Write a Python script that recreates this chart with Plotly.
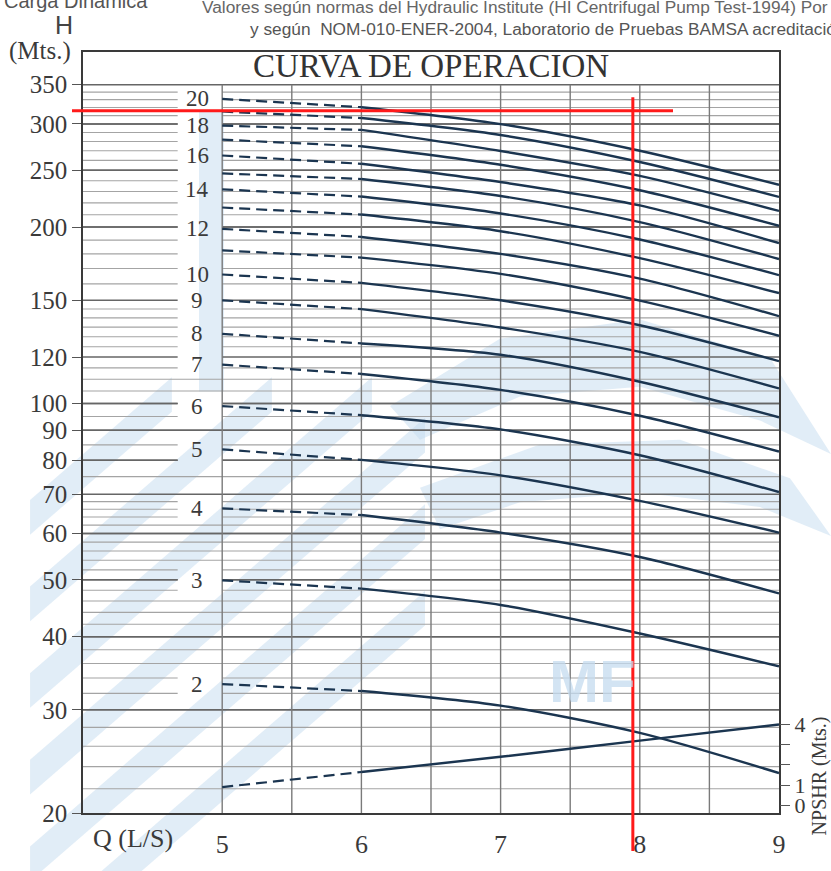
import math
import plotly.graph_objects as go

# ---------------------------------------------------------------------------
# Pump operating curves: head H (m) vs flow Q (L/s) for 2..20 stages
# ---------------------------------------------------------------------------
STAGES = [2, 3, 4, 5, 6, 7, 8, 9, 10, 11, 12, 13, 14, 15, 16, 17, 18, 19, 20]
LABELLED_STAGES = [2, 3, 4, 5, 6, 7, 8, 9, 10, 12, 14, 16, 18, 20]

Q_DASHED = [5, 6]          # region drawn dashed
Q_SOLID = [6, 7, 8, 9]     # region drawn solid

H_Q5 = [33.2, 49.9, 66.2, 83.5, 99.0, 116.5, 131.5, 150.0, 166.0, 182.5,
        198.6, 216.0, 232.0, 247.0, 265.0, 282.0, 298.0, 315.0, 331.0]
H_Q6 = [32.3, 48.3, 64.5, 80.1, 95.5, 112.3, 126.6, 144.9, 160.6, 177.4,
        192.4, 210.1, 225.5, 241.6, 256.5, 274.8, 293.0, 307.0, 320.4]
H_Q7 = [30.5, 45.3, 60.2, 75.4, 90.3, 105.5, 121.1, 134.8, 150.0, 166.4,
        180.0, 196.8, 211.0, 226.0, 238.7, 255.5, 269.7, 287.2, 299.8]
H_Q8 = [27.4, 40.5, 54.7, 68.2, 81.6, 95.3, 108.9, 122.5, 136.0, 149.8,
        163.3, 177.0, 190.5, 204.0, 217.8, 231.2, 244.6, 258.3, 270.0]
H_Q9 = [23.4, 35.6, 47.4, 60.2, 70.6, 82.8, 94.7, 106.1, 118.1, 130.5,
        140.9, 154.3, 165.6, 176.4, 187.8, 201.0, 213.1, 225.2, 236.2]

# NPSH required (m), right-hand axis
NPSH_Q = [5, 6, 7, 8, 9]
NPSH_M = [0.9, 1.65, 2.4, 3.2, 4.0]

# Axis ticks
Y_TICKS = [20, 30, 40, 50, 60, 70, 80, 90, 100, 120, 150, 200, 250, 300, 350]
X_TICKS = [5, 6, 7, 8, 9]
NPSH_TICKS = [0, 1, 2, 3, 4]
NPSH_TICKTEXT = ["0", "1", "", "", "4"]

# Horizontal rulings of the chart paper
GRID_H = (list(range(22, 70, 2)) + list(range(75, 120, 5)) +
          list(range(125, 150, 5)) + list(range(160, 350, 10)))
GRID_Q = [5, 5.5, 6, 6.5, 7, 7.5, 8, 8.5]

# Reference cross-hair drawn in red
MARK_Q = 7.95
MARK_H = 316

# ---------------------------------------------------------------------------
W, HGT = 831, 871
M_L, M_R, M_T, M_B = 83, 52, 52, 28
PLOT_W = W - M_L - M_R
PLOT_H = HGT - M_T - M_B
PX_PER_DECADE = 609.0
Y_LO = math.log10(20)
Y_HI = Y_LO + PLOT_H / PX_PER_DECADE
NPSH_PX = 21.0
Y2_LO = -(HGT - M_B - 835) / NPSH_PX
Y2_HI = Y2_LO + PLOT_H / NPSH_PX


def px(x, y):
    """Page pixel -> paper coordinates."""
    return (x - M_L) / PLOT_W, (HGT - M_B - y) / PLOT_H


CURVE = "#1b3550"
SERIF = "Liberation Serif"
SANS = "Liberation Sans"
TXT = "#3a3a3a"

fig = go.Figure()

# --- chart paper rulings -----------------------------------------------------
label_logs = [math.log10(H_Q5[STAGES.index(s)]) for s in LABELLED_STAGES]
minor_x, minor_y, major_x, major_y = [], [], [], []
for h in GRID_H + [v for v in Y_TICKS if v != 20]:
    lh = math.log10(h)
    near_label = any(abs(lh - l) < 0.024 for l in label_logs)
    broken = (h != 350) and (near_label or h >= 140)
    segs = [(4, 4.68), (5, 9)] if broken else [(4, 9)]
    tx, ty = (major_x, major_y) if h in Y_TICKS else (minor_x, minor_y)
    for a, b in segs:
        tx += [a, b, None]
        ty += [h, h, None]

fig.add_trace(go.Scatter(x=minor_x, y=minor_y, mode="lines",
                         line=dict(color="#a4a4a4", width=1.1),
                         hoverinfo="skip", showlegend=False))
fig.add_trace(go.Scatter(x=major_x, y=major_y, mode="lines",
                         line=dict(color="#666666", width=1.5),
                         hoverinfo="skip", showlegend=False))
vx, vy = [], []
for q in GRID_Q:
    vx += [q, q, None]
    vy += [20, 350, None]
fig.add_trace(go.Scatter(x=vx, y=vy, mode="lines",
                         line=dict(color="#7a7a7a", width=1.4),
                         hoverinfo="skip", showlegend=False))

# --- head curves ---------------------------------------------------------------
for i, n in enumerate(STAGES):
    fig.add_trace(go.Scatter(
        x=Q_DASHED, y=[H_Q5[i], H_Q6[i]], mode="lines",
        line=dict(color=CURVE, width=2.2, dash="11px,6px"),
        hoverinfo="skip", showlegend=False))
    fig.add_trace(go.Scatter(
        x=Q_SOLID, y=[H_Q6[i], H_Q7[i], H_Q8[i], H_Q9[i]], mode="lines",
        line=dict(color=CURVE, width=2.4, shape="spline", smoothing=0.8),
        name=f"{n} pasos", showlegend=False))

# --- NPSHR curve on the right axis -----------------------------------------
fig.add_trace(go.Scatter(x=NPSH_Q[:2], y=NPSH_M[:2], mode="lines", yaxis="y2",
                         line=dict(color=CURVE, width=2.2, dash="11px,6px"),
                         hoverinfo="skip", showlegend=False))
fig.add_trace(go.Scatter(x=NPSH_Q[1:], y=NPSH_M[1:], mode="lines", yaxis="y2",
                         line=dict(color=CURVE, width=2.4, shape="spline",
                                   smoothing=0.6),
                         name="NPSHR", showlegend=False))

# --- light-blue watermark ----------------------------------------------------
WM = "rgba(196,219,239,0.5)"
shapes = []


def poly(points, color=WM):
    pts = [px(x, y) for x, y in points]
    d = "M " + " L ".join(f"{a:.4f},{b:.4f}" for a, b in pts) + " Z"
    shapes.append(dict(type="path", path=d, xref="paper", yref="paper",
                       fillcolor=color, line=dict(width=0), layer="below"))


slope = 0.9
for yc in [470, 560, 650, 740, 830, 920]:
    x_end = min(425, 83 + (yc - 390) / slope)
    th = 36
    poly([(30, yc + 53 * slope), (30, yc + 53 * slope + th),
          (x_end, yc - (x_end - 83) * slope + th),
          (x_end, yc - (x_end - 83) * slope)])
bx0, by0 = px(199, 113)
bx1, by1 = px(224, 405)
shapes.append(dict(type="rect", xref="paper", yref="paper", x0=bx0, x1=bx1,
                   y0=by1, y1=by0, fillcolor=WM, line=dict(width=0),
                   layer="below"))
poly([(390, 420), (500, 350), (640, 330), (770, 370), (831, 470),
      (760, 435), (640, 400), (520, 410), (420, 455)])
poly([(420, 505), (540, 460), (680, 455), (790, 495), (831, 555),
      (760, 525), (640, 510), (520, 520), (440, 548)])

# Red cross-hair
shapes.append(dict(type="line", xref="x", yref="paper", x0=MARK_Q, x1=MARK_Q,
                   y0=-0.05, y1=px(0, 99)[1],
                   line=dict(color="#ff1a1a", width=3), layer="above"))
shapes.append(dict(type="line", xref="paper", yref="y",
                   x0=px(72, 0)[0], x1=px(673, 0)[0],
                   y0=MARK_H, y1=MARK_H,
                   line=dict(color="#ff1a1a", width=3), layer="above"))

# --- text ----------------------------------------------------------------------
ann = []
for s in LABELLED_STAGES:
    ann.append(dict(x=4.82, y=math.log10(H_Q5[STAGES.index(s)]), xref="x",
                    yref="y", text=str(s), showarrow=False,
                    font=dict(family=SERIF, size=23, color=TXT)))


def text(x, y, s, size, family=SERIF, color=TXT, xanchor="center", **kw):
    a, b = px(x, y)
    ann.append(dict(x=a, y=b, xref="paper", yref="paper", text=s,
                    showarrow=False, xanchor=xanchor, yanchor="middle",
                    font=dict(family=family, size=size, color=color), **kw))


text(431, 67, "CURVA DE OPERACION", 33, color="#333333")
text(64, 24, "H", 25, family=SANS, color="#444444")
text(40, 51, "(Mts.)", 25)
text(150, -1, "Carga Dinámica", 20, family=SANS, color="#555555",
     xanchor="right")
text(200, 5, "Valores según normas del Hydraulic Institute (HI Centrifugal "
     "Pump Test-1994) Por", 17.3, family=SANS, color="#666666",
     xanchor="left")
text(248, 28, "y según  NOM-010-ENER-2004, Laboratorio de Pruebas BAMSA "
     "acreditación", 17.3, family=SANS, color="#555555", xanchor="left")
text(133, 869, "Q (L/S)", 26)
text(819, 805, "NPSHR (Mts.)", 20, textangle=-90)
text(592, 706, "<b>MF</b>", 60, family=SANS, color="rgba(196,219,239,0.75)")

fig.update_layout(
    width=W, height=HGT,
    margin=dict(l=M_L, r=M_R, t=M_T, b=M_B, pad=0),
    paper_bgcolor="white", plot_bgcolor="rgba(0,0,0,0)",
    shapes=shapes, annotations=ann,
    xaxis=dict(range=[4, 9], tickvals=X_TICKS, showgrid=False,
               zeroline=False, showline=True, mirror=True,
               linecolor="#3a3a3a", linewidth=1.6, ticks="",
               ticklabelstandoff=7,
               tickfont=dict(family=SERIF, size=26, color=TXT)),
    yaxis=dict(type="log", range=[Y_LO, Y_HI], tickvals=Y_TICKS,
               ticktext=[str(v) for v in Y_TICKS], showgrid=False,
               zeroline=False, showline=True, mirror=True,
               linecolor="#3a3a3a", linewidth=1.6, ticks="outside",
               ticklen=9, tickcolor="#555555", tickwidth=1.4,
               tickfont=dict(family=SERIF, size=25, color=TXT)),
    yaxis2=dict(overlaying="y", side="right", range=[Y2_LO, Y2_HI],
                tickvals=NPSH_TICKS, ticktext=NPSH_TICKTEXT, showgrid=False,
                zeroline=False, showline=False, ticks="outside", ticklen=10,
                tickcolor="#555555", tickwidth=1.4,
                tickfont=dict(family=SERIF, size=22, color=TXT)),
)

fig.write_html("out.html")
